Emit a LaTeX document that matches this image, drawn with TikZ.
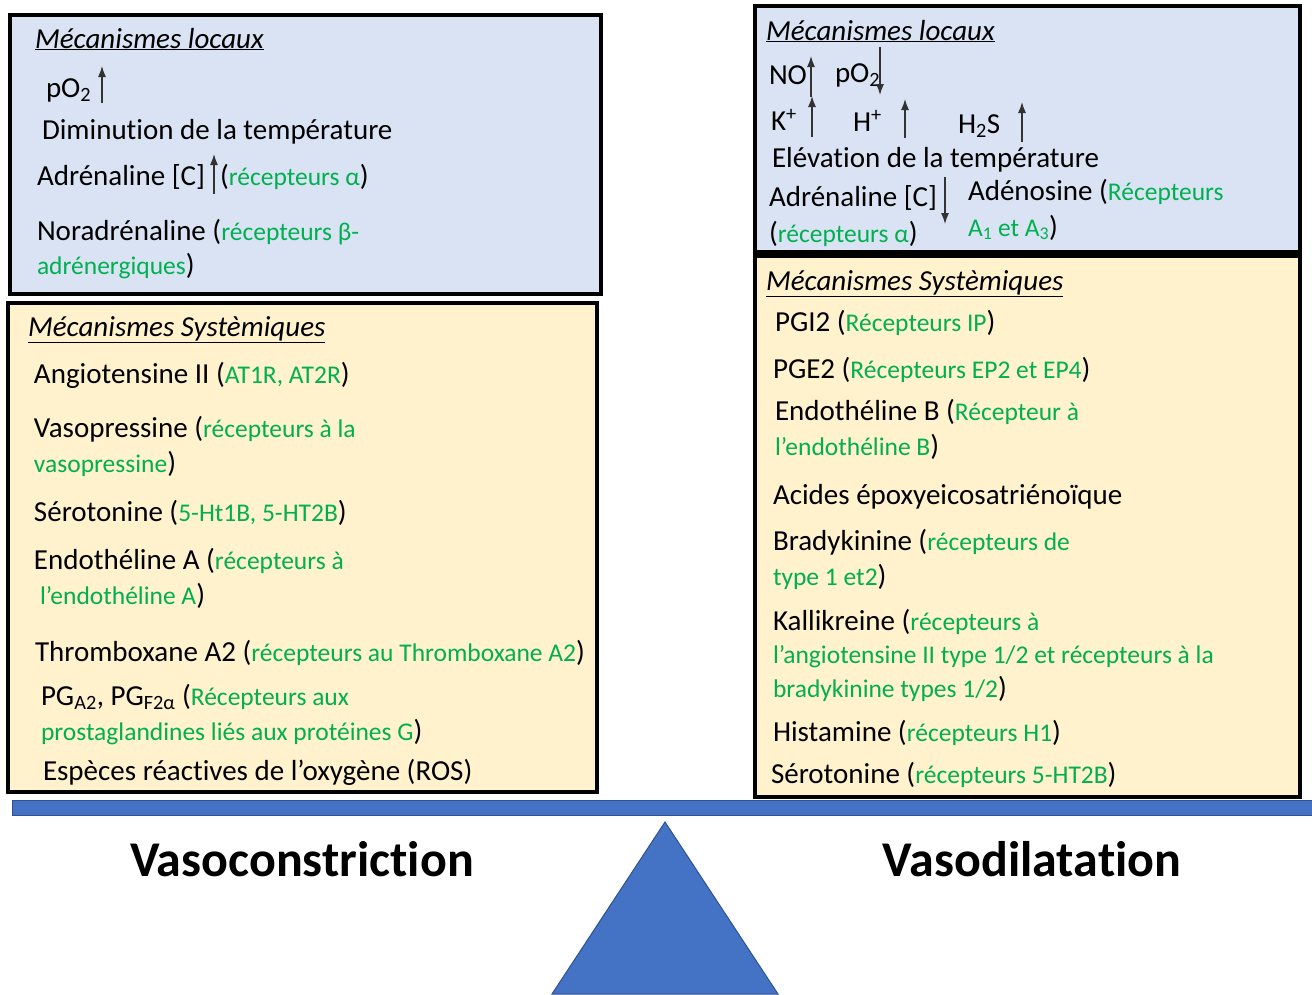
\documentclass[tikz,border=0pt]{standalone}
\usepackage{fontspec}
\setmainfont{Carlito}[Ligatures=NoCommon]
\usepackage{tikz}
\usetikzlibrary{positioning}
\usetikzlibrary{arrows.meta}

\definecolor{locfill}{HTML}{DAE3F3}
\definecolor{sysfill}{HTML}{FFF2CC}
\definecolor{recgreen}{HTML}{00B050}
\definecolor{balfill}{HTML}{4472C4}
\definecolor{baledge}{HTML}{2F528F}

\newcommand{\grn}[1]{{\color{recgreen}\fontsize{25.5}{28}\selectfont #1}}

\begin{document}
\begin{tikzpicture}[
        x = 1pt, y = -1pt,
        box/.style = {
            draw = black,
            line width = 4pt,
            fill = #1
        },
        box/.default = locfill,
        line/.style = {
            anchor = base west,
            inner sep = 0pt,
            outer sep = 0pt,
            font = \fontsize{29}{34}\selectfont
        },
        title/.style = {
            anchor = base,
            inner sep = 0pt,
            font = \fontsize{50}{56}\selectfont\bfseries
        },
        updown/.style = {
            -{Latex[length=11pt, width=8pt]},
            line width = 1.2pt,
            draw = black!80
        }
    ]
    \useasboundingbox (0,0) rectangle (1312,994);
    \fill[white] (0,0) rectangle (1312,994);

    \draw[box] (10,15) rectangle (601,294);
    \draw[box=sysfill] (8,303) rectangle (597,792);
    \draw[box] (755,6) rectangle (1300,252);
    \draw[box=sysfill] (755,256) rectangle (1300,797);

    \node[line] (lt) at (35,48) {\underline{\textit{Mécanismes locaux}}};
    \node[line] (l1) at (46,97) {pO\textsubscript{2}};
    \node[line] (l2) at (42,139) {Diminution de la température};
    \node[line] (l3) at (37,185) {Adrénaline [C]};
    \node[line] (l3b) at (220,185) {(\grn{récepteurs α})};
    \node[line] (l4) at (37,240) {Noradrénaline (\grn{récepteurs β-}};
    \node[line] (l5) at (37,274) {\grn{adrénergiques})};
    \draw[updown] (102,103) -- (102,66);
    \draw[updown] (214,194) -- (214,154);

    \node[line] (st) at (28,336) {\underline{\textit{Mécanismes Systèmiques}}};
    \node[line] (s1) at (34,383) {Angiotensine II (\grn{AT1R, AT2R})};
    \node[line] (s2) at (34,437) {Vasopressine (\grn{récepteurs à la}};
    \node[line] (s3) at (34,472) {\grn{vasopressine})};
    \node[line] (s4) at (34,521) {Sérotonine (\grn{5-Ht1B, 5-HT2B})};
    \node[line] (s5) at (34,569) {Endothéline A (\grn{récepteurs à}};
    \node[line] (s6) at (40,604) {\grn{l’endothéline A})};
    \node[line] (s7) at (35,661) {Thromboxane A2 (\grn{récepteurs au Thromboxane A2})};
    \node[line] (s8) at (41,705) {PG\textsubscript{A2}, PG\textsubscript{F2α} (\grn{Récepteurs aux}};
    \node[line] (s9) at (41,740) {\grn{prostaglandines liés aux protéines G})};
    \node[line] (s10) at (43,780) {Espèces réactives de l’oxygène (ROS)};

    \node[line] (rt) at (766,40) {\underline{\textit{Mécanismes locaux}}};
    \node[line] (r1) at (769,84) {NO};
    \node[line] (r2) at (835,82) {pO\textsubscript{2}};
    \node[line] (r3) at (771,130) {K\textsuperscript{+}};
    \node[line] (r4) at (853,131) {H\textsuperscript{+}};
    \node[line] (r5) at (958,133) {H\textsubscript{2}S};
    \node[line] (r6) at (772,167) {Elévation de la température};
    \node[line] (r7) at (769,206) {Adrénaline [C]};
    \node[line] (r8) at (769,242) {(\grn{récepteurs α})};
    \node[line] (r9) at (968,200) {Adénosine (\grn{Récepteurs}};
    \node[line] (r10) at (968,236) {\grn{A\textsubscript{1} et A\textsubscript{3}})};
    \draw[updown] (811,97) -- (811,56);
    \draw[updown] (880,47) -- (880,95);
    \draw[updown] (812,137) -- (812,96);
    \draw[updown] (905,138) -- (905,99);
    \draw[updown] (1022,142) -- (1022,102);
    \draw[updown] (945,177) -- (945,224);

    \node[line] (dt) at (766,290) {\underline{\textit{Mécanismes Systèmiques}}};
    \node[line] (d1) at (775,331) {PGI2 (\grn{Récepteurs IP})};
    \node[line] (d2) at (773,378) {PGE2 (\grn{Récepteurs EP2 et EP4})};
    \node[line] (d3) at (775,420) {Endothéline B (\grn{Récepteur à}};
    \node[line] (d4) at (775,455) {\grn{l’endothéline B})};
    \node[line] (d5) at (773,504) {Acides époxyeicosatriénoïque};
    \node[line] (d6) at (773,550) {Bradykinine (\grn{récepteurs de}};
    \node[line] (d7) at (773,585) {\grn{type 1 et2})};
    \node[line] (d8) at (773,630) {Kallikreine (\grn{récepteurs à}};
    \node[line] (d9) at (773,663) {\grn{l’angiotensine II type 1/2 et récepteurs à la}};
    \node[line] (d10) at (773,697) {\grn{bradykinine types 1/2})};
    \node[line] (d11) at (773,741) {Histamine (\grn{récepteurs H1})};
    \node[line] (d12) at (771,783) {Sérotonine (\grn{récepteurs 5-HT2B})};

    \filldraw[fill=balfill, draw=baledge, line width=1pt] (12,800) rectangle (1312,815);
    \filldraw[fill=balfill, draw=baledge, line width=1pt] (665,822) -- (778,994) -- (552,994) -- cycle;

    \node[title] (vc) at (302,876) {Vasoconstriction};
    \node[title] (vd) at (1032,876) {Vasodilatation};
\end{tikzpicture}
\end{document}
